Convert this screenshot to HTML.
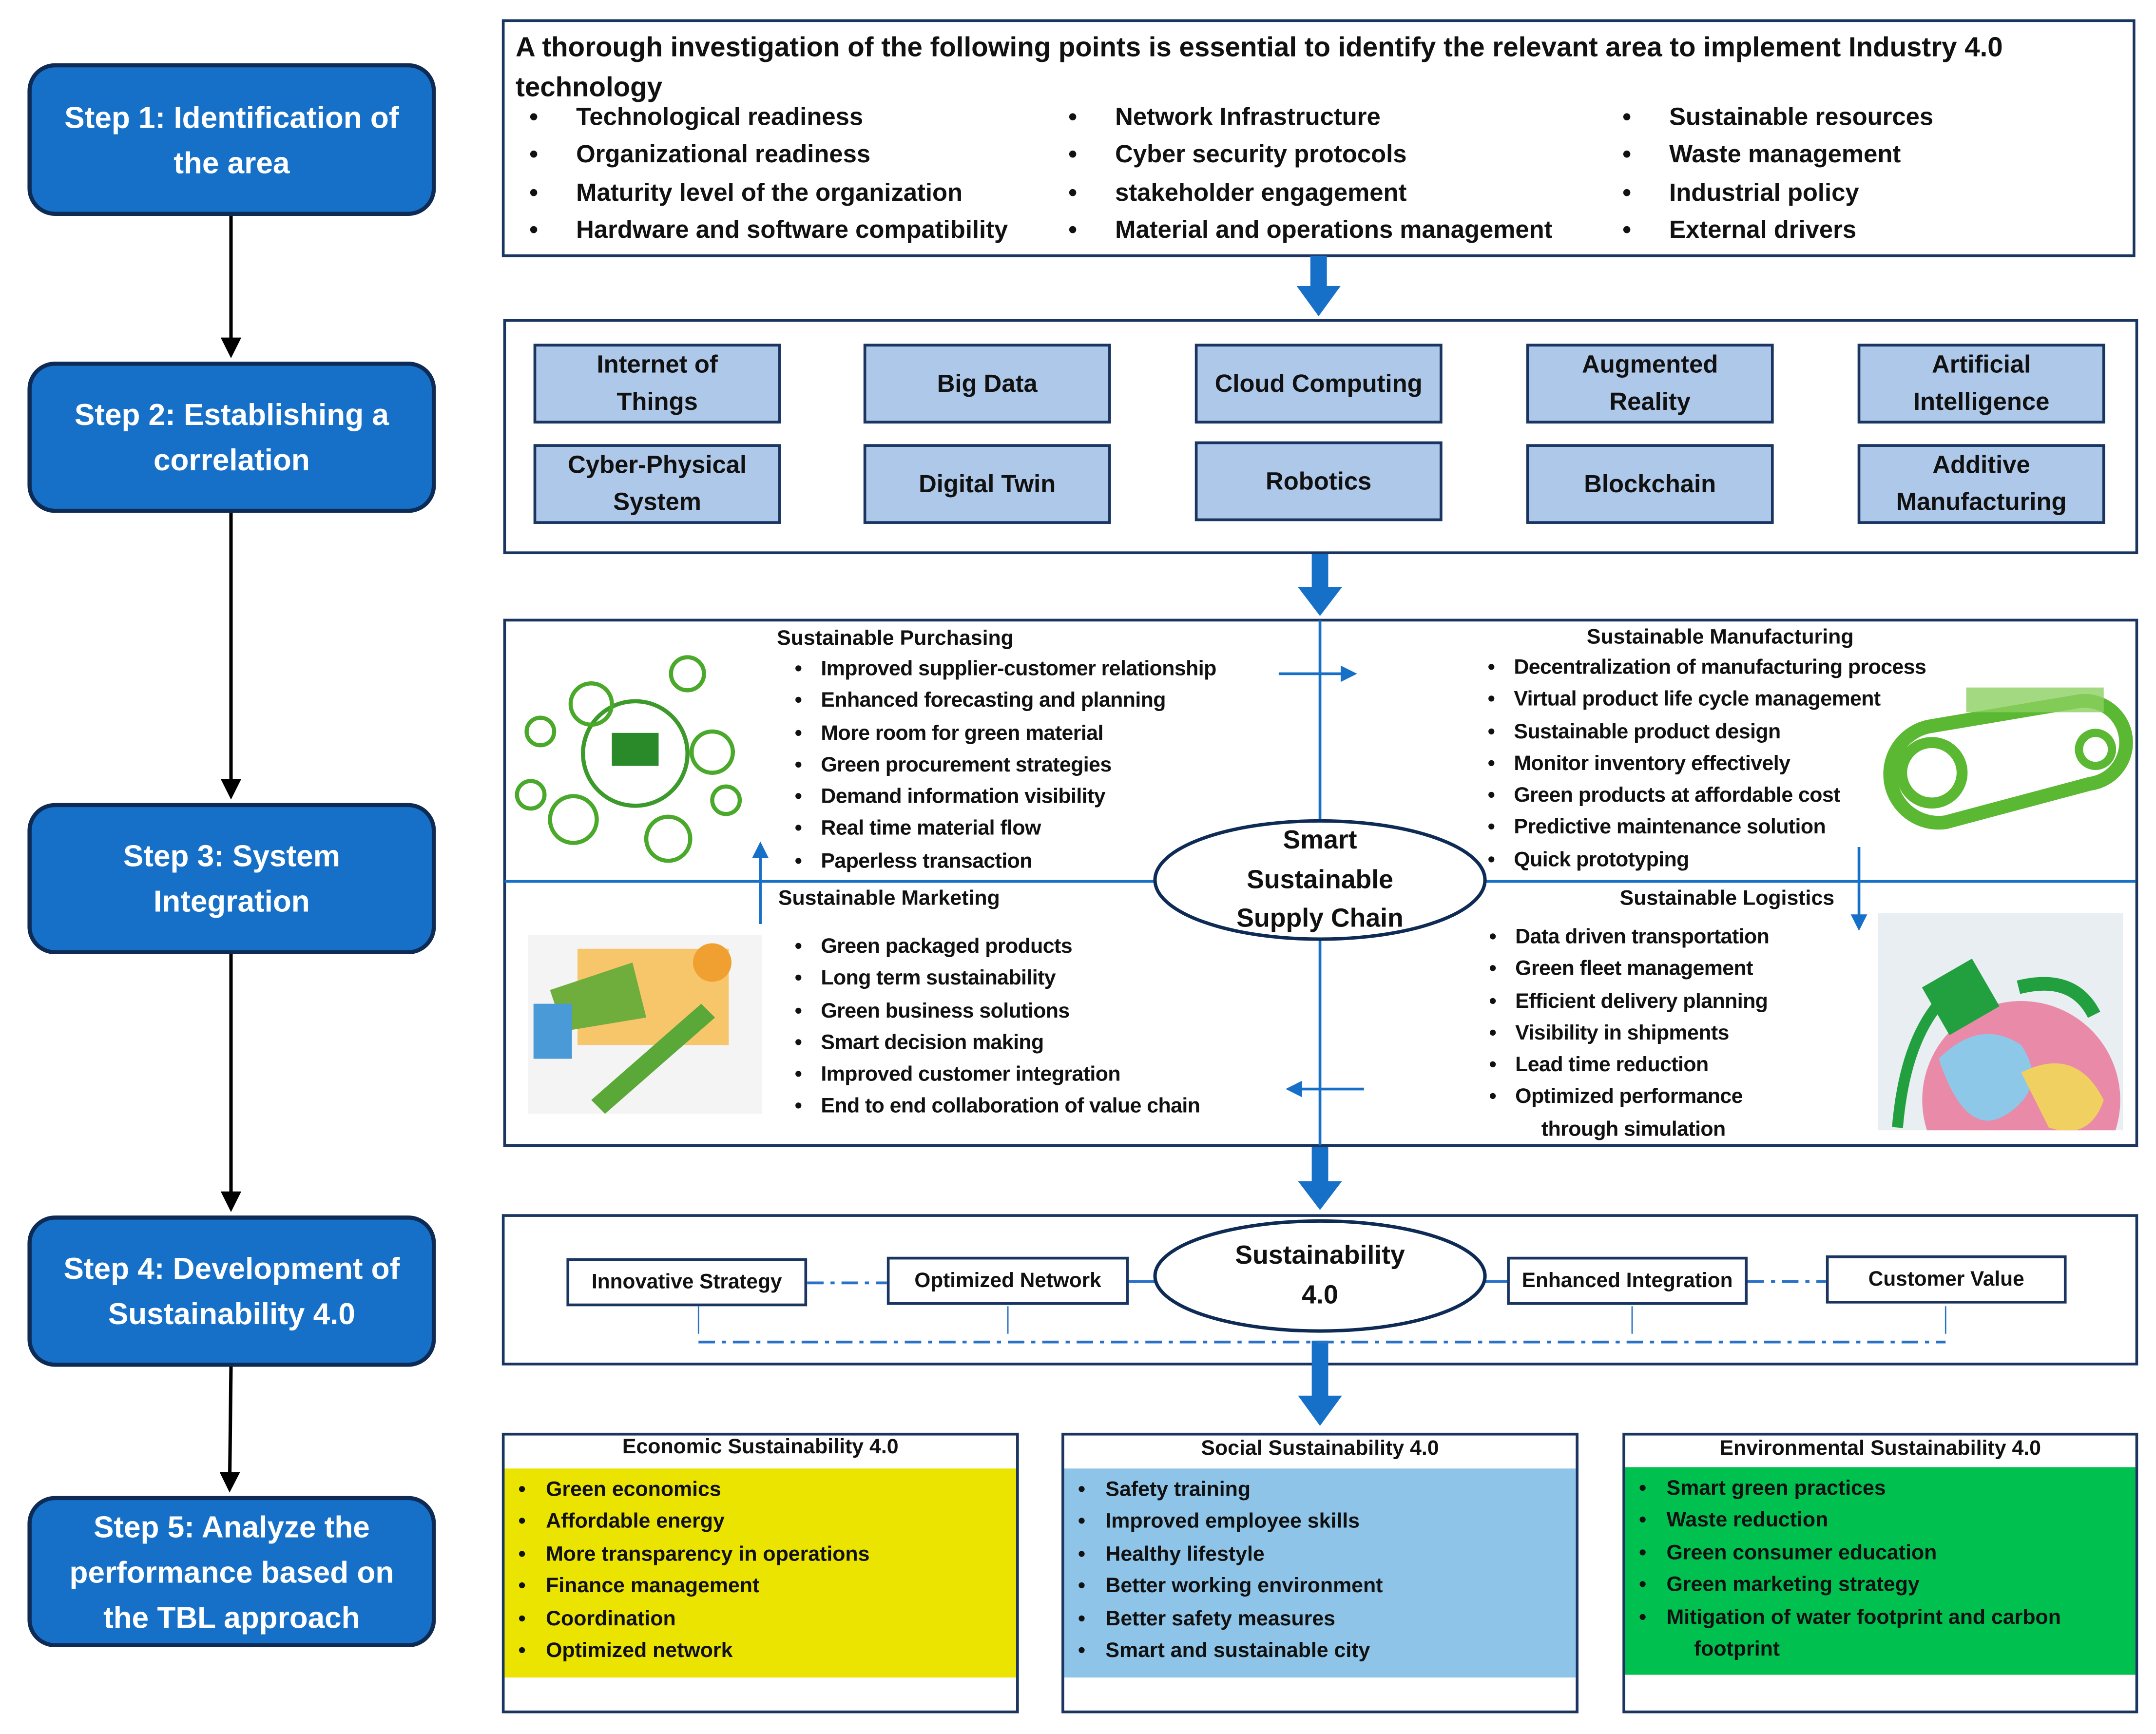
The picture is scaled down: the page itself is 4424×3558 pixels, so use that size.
<!DOCTYPE html>
<html><head><meta charset="utf-8"><style>
html,body{margin:0;padding:0;background:#fff;width:4424px;height:3557px;overflow:hidden}
#w{position:absolute;left:0;top:0;width:1568px;height:1261px;transform:scale(2.8214);transform-origin:0 0;font-family:"Liberation Sans",sans-serif;color:#111}
.a{position:absolute}
.step{position:absolute;left:20px;width:297px;background:#1770c8;border:3px solid #0d2b55;border-radius:20px;color:#fff;font-weight:bold;font-size:22px;text-align:center;display:flex;align-items:center;justify-content:center;line-height:33px;box-sizing:border-box}
.box{position:absolute;border:2px solid #1a3560;box-sizing:border-box;background:#fff}
.t{position:absolute;white-space:nowrap}
.b1 div{height:27.3px;font-size:18px;font-weight:bold;white-space:nowrap}
.b1 div:before{content:"•";display:inline-block;width:34px;padding-left:4px}
.tech{position:absolute;width:180px;height:58px;background:#aec8ea;border:2px solid #1a3560;box-sizing:border-box;font-weight:bold;font-size:18px;text-align:center;display:flex;align-items:center;justify-content:center;line-height:27px}
.l3 div{height:23.3px;font-size:15.2px;font-weight:bold;white-space:nowrap;letter-spacing:-0.2px}
.l3 div:before{content:"•";display:inline-block;width:19px}
.h3{font-size:15.2px;font-weight:bold}
.sb{position:absolute;height:35px;border:2px solid #1a3560;box-sizing:border-box;background:#fff;font-weight:bold;font-size:15px;display:flex;align-items:center;justify-content:center;white-space:nowrap}
.tb div{height:23.4px;font-size:15.2px;font-weight:bold;white-space:nowrap}
.tb div:before{content:"•";display:inline-block;width:20px}
div.nb:before{content:""!important}
</style></head><body><div id="w">

<div class="step" style="top:46px;height:111px">Step 1: Identification of<br>the area</div>
<div class="step" style="top:263px;height:110px">Step 2: Establishing a<br>correlation</div>
<div class="step" style="top:584px;height:110px">Step 3: System<br>Integration</div>
<div class="step" style="top:884px;height:110px">Step 4: Development of<br>Sustainability 4.0</div>
<div class="step" style="top:1088px;height:110px">Step 5: Analyze the<br>performance based on<br>the TBL approach</div>

<svg class="a" style="left:0;top:0" width="1568" height="1261">
 <defs><marker id="ah" markerWidth="6" markerHeight="6" refX="5" refY="3" orient="auto"><path d="M0,0L6,3L0,6z" fill="#000"/></marker>
 <marker id="bh" markerWidth="6" markerHeight="6" refX="5" refY="3" orient="auto"><path d="M0,0L6,3L0,6z" fill="#1770c8"/></marker></defs>
 <g stroke="#000" stroke-width="2.5">
  <line x1="168" y1="157" x2="168" y2="258" marker-end="url(#ah)"/>
  <line x1="168" y1="373" x2="168" y2="579" marker-end="url(#ah)"/>
  <line x1="168" y1="694" x2="168" y2="879" marker-end="url(#ah)"/>
  <line x1="168" y1="994" x2="167" y2="1083" marker-end="url(#ah)"/>
 </g>
</svg>

<div class="box" style="left:365px;top:14px;width:1188px;height:173px"></div>
<div class="t" style="left:375px;top:21px;font-size:20px;font-weight:bold;line-height:29px;white-space:normal;width:1120px">A thorough investigation of the following points is essential to identify the relevant area to implement Industry 4.0 technology</div>
<div class="a b1" style="left:381px;top:75px"><div>Technological readiness</div><div>Organizational readiness</div><div>Maturity level of the organization</div><div>Hardware and software compatibility</div></div>
<div class="a b1" style="left:773px;top:75px"><div>Network Infrastructure</div><div>Cyber security protocols</div><div>stakeholder engagement</div><div>Material and operations management</div></div>
<div class="a b1" style="left:1176px;top:75px"><div>Sustainable resources</div><div>Waste management</div><div>Industrial policy</div><div>External drivers</div></div>

<div class="box" style="left:366px;top:232px;width:1189px;height:171px"></div>
<div class="tech" style="left:388px;top:250px">Internet of<br>Things</div>
<div class="tech" style="left:628px;top:250px">Big Data</div>
<div class="tech" style="left:869px;top:250px">Cloud Computing</div>
<div class="tech" style="left:1110px;top:250px">Augmented<br>Reality</div>
<div class="tech" style="left:1351px;top:250px">Artificial<br>Intelligence</div>
<div class="tech" style="left:388px;top:323px">Cyber-Physical<br>System</div>
<div class="tech" style="left:628px;top:323px">Digital Twin</div>
<div class="tech" style="left:869px;top:321px">Robotics</div>
<div class="tech" style="left:1110px;top:323px">Blockchain</div>
<div class="tech" style="left:1351px;top:323px">Additive<br>Manufacturing</div>

<div class="box" style="left:366px;top:450px;width:1189px;height:384px"></div>
<div class="box" style="left:365px;top:883px;width:1190px;height:110px"></div>
<div class="box" style="left:365px;top:1042px;width:376px;height:204px"></div>
<div class="box" style="left:772px;top:1042px;width:376px;height:204px"></div>
<div class="box" style="left:1180px;top:1042px;width:375px;height:204px"></div>
<div class="a" style="left:367px;top:1068px;width:372px;height:152px;background:#ebe400"></div>
<div class="a" style="left:774px;top:1068px;width:372px;height:152px;background:#8ec4e8"></div>
<div class="a" style="left:1182px;top:1067px;width:371px;height:151px;background:#00c050"></div>

<svg class="a" style="left:0;top:0" width="1568" height="1261">
 <defs><clipPath id="cg"><rect x="1366" y="664" width="178" height="158"/></clipPath></defs>
 <g fill="#1770c8">
  <path d="M953,186h12v22h10l-16,22l-16,-22h10z"/>
  <path d="M954,403h12v24h10l-16,21l-16,-21h10z"/>
  <path d="M954,834h12v25h10l-16,21l-16,-21h10z"/>
  <path d="M954,975h12v40h10l-16,22l-16,-22h10z"/>
 </g>
 <g stroke="#1770c8" stroke-width="2">
  <line x1="367" y1="641" x2="840" y2="641"/>
  <line x1="1080" y1="641" x2="1553" y2="641"/>
  <line x1="960" y1="451" x2="960" y2="598"/>
  <line x1="960" y1="683" x2="960" y2="833"/>
 </g>
 <g stroke="#1770c8" stroke-width="2" fill="none">
  <line x1="930" y1="490" x2="985" y2="490" marker-end="url(#bh)"/>
  <line x1="1352" y1="616" x2="1352" y2="675" marker-end="url(#bh)"/>
  <line x1="992" y1="792" x2="937" y2="792" marker-end="url(#bh)"/>
  <line x1="553" y1="672" x2="553" y2="614" marker-end="url(#bh)"/>
 </g>
 <ellipse cx="960" cy="640" rx="120" ry="43" fill="#fff" stroke="#0d2b55" stroke-width="2.5"/>
 <g stroke="#2a72c8" stroke-width="2" fill="none">
  <line x1="587" y1="933" x2="645" y2="933" stroke-dasharray="12,5,3,5"/>
  <line x1="1271" y1="932" x2="1328" y2="932" stroke-dasharray="12,5,3,5"/>
  <line x1="821" y1="932" x2="840" y2="932"/>
  <line x1="1080" y1="932" x2="1096" y2="932"/>
  <line x1="508" y1="976" x2="1415" y2="976" stroke-dasharray="12,5,3,5"/>
  <line x1="508" y1="950" x2="508" y2="970" stroke-width="1"/>
  <line x1="733" y1="950" x2="733" y2="970" stroke-width="1"/>
  <line x1="1187" y1="950" x2="1187" y2="970" stroke-width="1"/>
  <line x1="1415" y1="950" x2="1415" y2="970" stroke-width="1"/>
 </g>
 <ellipse cx="960" cy="928" rx="120" ry="40" fill="#fff" stroke="#0d2b55" stroke-width="2.5"/>
 <!-- purchasing icons -->
 <g fill="none" stroke="#4aa82a" stroke-width="3">
  <circle cx="462" cy="548" r="38" stroke="#3c9a2a"/>
  <circle cx="430" cy="512" r="15"/><circle cx="500" cy="490" r="12"/><circle cx="518" cy="547" r="15"/>
  <circle cx="417" cy="596" r="17"/><circle cx="486" cy="610" r="16"/><circle cx="393" cy="532" r="10"/><circle cx="386" cy="578" r="10"/><circle cx="528" cy="582" r="10"/>
 </g>
 <rect x="445" y="533" width="34" height="24" fill="#2a8a2a"/>
 <!-- manufacturing gear conveyor -->
 <g fill="none" stroke="#5ab832" stroke-width="10">
  <path d="M1405,528 L1512,510 A30,30 0 0 1 1520,570 L1415,598 A35,35 0 0 1 1405,528z"/>
 </g>
 <circle cx="1405" cy="562" r="22" fill="none" stroke="#5ab832" stroke-width="8"/>
 <circle cx="1524" cy="545" r="12" fill="none" stroke="#5ab832" stroke-width="6"/>
 <rect x="1430" y="500" width="100" height="18" fill="#8ccf60" opacity="0.8"/>
 <!-- marketing -->
 <rect x="384" y="680" width="170" height="130" fill="#f4f4f4"/>
 <rect x="420" y="690" width="110" height="70" fill="#f7c66a"/>
 <path d="M400,720 l60,-20 l10,40 l-60,10z" fill="#6fae3c"/>
 <path d="M430,800 l80,-70 l10,10 l-80,70z" fill="#5aa838"/>
 <circle cx="518" cy="700" r="14" fill="#f0a030"/>
 <rect x="388" y="730" width="28" height="40" fill="#4a9ad8"/>
 <!-- logistics -->
 <rect x="1366" y="664" width="178" height="158" fill="#e8eef2"/>
 <g clip-path="url(#cg)">
  <circle cx="1470" cy="800" r="72" fill="#e98aa8"/>
  <path d="M1410,770 q30,-30 60,-10 q20,30 -10,50 q-30,20 -50,-40z" fill="#8ec8e8"/>
  <path d="M1470,780 q40,-20 60,20 q-10,30 -40,20z" fill="#f0d060"/>
  <path d="M1380,820 q5,-60 30,-90" stroke="#22a040" stroke-width="8" fill="none"/>
  <path d="M1468,718 q40,-10 55,20" stroke="#22a040" stroke-width="10" fill="none"/>
  <rect x="1405" y="705" width="42" height="40" fill="#22a040" transform="rotate(-30 1426 725)"/>
 </g>
</svg>

<div class="t h3" style="left:565px;top:456px">Sustainable Purchasing</div>
<div class="a l3" style="left:578px;top:478px"><div>Improved supplier-customer relationship</div><div>Enhanced forecasting and planning</div><div>More room for green material</div><div>Green procurement strategies</div><div>Demand information visibility</div><div>Real time material flow</div><div>Paperless transaction</div></div>
<div class="t h3" style="left:1154px;top:455px">Sustainable Manufacturing</div>
<div class="a l3" style="left:1082px;top:477px"><div>Decentralization of manufacturing process</div><div>Virtual product life cycle management</div><div>Sustainable product design</div><div>Monitor inventory effectively</div><div>Green products at affordable cost</div><div>Predictive maintenance solution</div><div>Quick prototyping</div></div>
<div class="t h3" style="left:566px;top:645px">Sustainable Marketing</div>
<div class="a l3" style="left:578px;top:680px"><div>Green packaged products</div><div>Long term sustainability</div><div>Green business solutions</div><div>Smart decision making</div><div>Improved customer integration</div><div>End to end collaboration  of value chain</div></div>
<div class="t h3" style="left:1178px;top:645px">Sustainable Logistics</div>
<div class="a l3" style="left:1083px;top:673px"><div>Data driven transportation</div><div>Green fleet management</div><div>Efficient delivery planning</div><div>Visibility in shipments</div><div>Lead time reduction</div><div>Optimized performance</div><div class="nb" style="padding-left:19px">through simulation</div></div>
<div class="t" style="left:840px;top:598px;width:240px;text-align:center;font-size:19px;font-weight:bold;line-height:28.5px">Smart<br>Sustainable<br>Supply Chain</div>

<div class="sb" style="left:412px;top:915px;width:175px">Innovative Strategy</div>
<div class="sb" style="left:645px;top:914px;width:176px">Optimized Network</div>
<div class="sb" style="left:1096px;top:914px;width:175px">Enhanced Integration</div>
<div class="sb" style="left:1328px;top:913px;width:175px">Customer Value</div>
<div class="t" style="left:840px;top:899px;width:240px;text-align:center;font-size:19px;font-weight:bold;line-height:29px">Sustainability<br>4.0</div>

<div class="t h3" style="left:365px;top:1044px;width:376px;text-align:center">Economic Sustainability 4.0</div>
<div class="t h3" style="left:772px;top:1045px;width:376px;text-align:center">Social Sustainability 4.0</div>
<div class="t h3" style="left:1180px;top:1045px;width:375px;text-align:center">Environmental Sustainability 4.0</div>
<div class="a tb" style="left:377px;top:1075px"><div>Green economics</div><div>Affordable energy</div><div>More transparency  in operations</div><div>Finance management</div><div>Coordination</div><div>Optimized network</div></div>
<div class="a tb" style="left:784px;top:1075px"><div>Safety training</div><div>Improved employee skills</div><div>Healthy lifestyle</div><div>Better working environment</div><div>Better safety measures</div><div>Smart and sustainable city</div></div>
<div class="a tb" style="left:1192px;top:1074px"><div>Smart green practices</div><div>Waste reduction</div><div>Green consumer education</div><div>Green marketing strategy</div><div>Mitigation of water footprint and carbon</div><div class="nb" style="padding-left:20px">footprint</div></div>

</div></body></html>
